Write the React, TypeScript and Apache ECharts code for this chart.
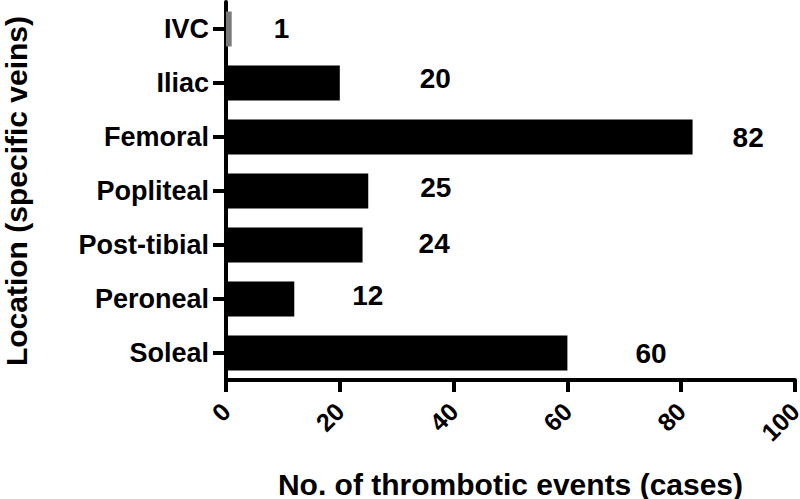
import React, { useEffect, useRef } from "react";
import * as echarts from "echarts";

const categories = ["IVC", "Iliac", "Femoral", "Popliteal", "Post-tibial", "Peroneal", "Soleal"];
const values = [1, 20, 82, 25, 24, 12, 60];
const barColors = ["#7a7a7a", "#000000", "#000000", "#000000", "#000000", "#000000", "#000000"];
// label offsets (layout only): [dx from bar end, dy]
const labelOffsets: [number, number][] = [
  [42, -1],
  [80, -5],
  [40, 0],
  [52, -4],
  [56, -2],
  [58, -4],
  [68, 0],
];
const xTicks = { min: 0, max: 100, interval: 20 };

const FONT = "'Liberation Sans', Arial, Helvetica, sans-serif";

export default function App() {
  const ref = useRef<HTMLDivElement>(null);
  useEffect(() => {
    if (!ref.current) return;
    const chart = echarts.init(ref.current, null, { renderer: "svg" });
    const cats = [...categories].reverse();
    const vals = [...values].reverse();
    const cols = [...barColors].reverse();
    const offs = [...labelOffsets].reverse();
    chart.setOption({
      animation: false,
      backgroundColor: "#ffffff",
      grid: { left: 226, right: 5, top: 2, bottom: 119, containLabel: false, outerBoundsMode: "none" },
      xAxis: {
        type: "value",
        min: xTicks.min,
        max: xTicks.max,
        interval: xTicks.interval,
        name: "No. of thrombotic events (cases)",
        nameLocation: "middle",
        nameGap: 89,
        nameTextStyle: { fontFamily: FONT, fontWeight: "bold", fontSize: 30, color: "#000" },
        axisLine: { show: true, lineStyle: { color: "#000", width: 4 } },
        axisTick: { show: true, length: 12, lineStyle: { color: "#000", width: 4 } },
        axisLabel: {
          rotate: 45,
          margin: 27,
          fontFamily: FONT,
          fontWeight: "bold",
          fontSize: 25,
          color: "#000",
          showMaxLabel: true,
          showMinLabel: true,
        },
        splitLine: { show: false },
      },
      yAxis: {
        type: "category",
        data: cats,
        name: "Location (specific veins)",
        nameLocation: "middle",
        nameRotate: 90,
        nameGap: 195,
        nameTextStyle: { fontFamily: FONT, fontWeight: "bold", fontSize: 30, color: "#000" },
        axisLine: { show: true, lineStyle: { color: "#000", width: 4 } },
        axisTick: { show: true, alignWithLabel: true, length: 13, lineStyle: { color: "#000", width: 4 } },
        axisLabel: {
          margin: 17,
          fontFamily: FONT,
          fontWeight: "bold",
          fontSize: 27,
          color: "#000",
        },
        splitLine: { show: false },
      },
      series: [
        {
          type: "bar",
          barWidth: 35,
          data: vals.map((v, i) => ({
            value: v,
            itemStyle: { color: cols[i] },
            label: {
              show: true,
              position: "right",
              distance: 0,
              offset: offs[i],
              fontFamily: FONT,
              fontWeight: "bold",
              fontSize: 28,
              color: "#000",
            },
          })),
        },
      ],
    });
    return () => chart.dispose();
  }, []);
  return <div ref={ref} style={{ width: 800, height: 499, position: "absolute", left: 0, top: 0 }} />;
}
